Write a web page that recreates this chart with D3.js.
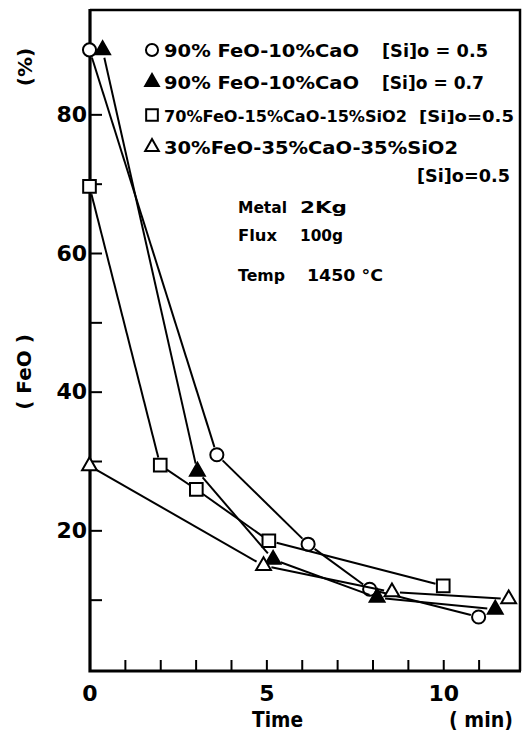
<!DOCTYPE html>
<html>
<head>
<meta charset="utf-8">
<script src="https://cdn.jsdelivr.net/npm/d3@7"></script>
<style>
  body { margin: 0; background: #fff; }
  text { font-family: "DejaVu Sans", sans-serif; font-weight: bold; fill: #000; }
</style>
</head>
<body>
<div id="chart"></div>
<script>
// data (time in min, FeO in %)
let circleTime = [0, 3.6, 6.18, 7.92, 11.0];
let circleFeO = [89.3, 30.9, 18.0, 11.5, 7.5];

let filledTime = [0.37, 3.05, 5.19, 8.13, 11.47];
let filledFeO = [89.3, 28.5, 15.8, 10.3, 8.6];

let squareTime = [0, 2.0, 3.02, 5.07, 10.0];
let squareFeO = [69.6, 29.4, 25.9, 18.5, 12.0];

let openTriTime = [0, 4.92, 8.55, 11.85];
let openTriFeO = [29.3, 14.9, 11.1, 10.1];

let xTickLabels = [0, 5, 10];
let yTickLabels = [20, 40, 60, 80];

let svgWidth = 528;
let svgHeight = 740;

let frame = { left: 90, top: 10, right: 520, bottom: 671 };

let svg = d3.select("#chart")
  .append("svg")
  .attr("width", svgWidth)
  .attr("height", svgHeight);

let x = d3.scaleLinear().domain([0, 12.17]).range([89.5, frame.right]);
let y = d3.scaleLinear().domain([0, 95.05]).range([669, frame.top]);

// frame
svg.append("path")
  .attr("d", `M${frame.left},${frame.top} H${frame.right} V${frame.bottom}`)
  .attr("fill", "none").attr("stroke", "#000").attr("stroke-width", 2.5);
svg.append("path")
  .attr("d", `M${frame.left},${frame.top - 1} V${frame.bottom} H${frame.right + 1}`)
  .attr("fill", "none").attr("stroke", "#000").attr("stroke-width", 3.2);

// inward ticks on the left axis
let yTickMarks = svg.append("g")
  .attr("transform", `translate(${frame.left},0)`)
  .call(d3.axisRight(y).tickValues(d3.range(10, 90, 10)).tickSize(12).tickFormat(""));
yTickMarks.select(".domain").remove();
yTickMarks.selectAll("line").attr("stroke-width", 2);

let yLabels = svg.append("g")
  .attr("transform", `translate(${frame.left},0)`)
  .call(d3.axisLeft(y).tickValues(yTickLabels).tickSize(0).tickPadding(3));
yLabels.select(".domain").remove();
yLabels.selectAll("text")
  .attr("font-size", 22)
  .attr("font-family", "DejaVu Sans, sans-serif")
  .attr("font-weight", "bold");

// inward ticks on the bottom axis
let xTickMarks = svg.append("g")
  .attr("transform", `translate(0,${frame.bottom})`)
  .call(d3.axisTop(x).tickValues(d3.range(1, 12, 1)).tickSize(11).tickFormat(""));
xTickMarks.select(".domain").remove();
xTickMarks.selectAll("line").attr("stroke-width", 2);

let xLabels = svg.append("g")
  .attr("transform", `translate(0,${frame.bottom})`)
  .call(d3.axisBottom(x).tickValues(xTickLabels).tickSize(0).tickPadding(14));
xLabels.select(".domain").remove();
xLabels.selectAll("text")
  .attr("font-size", 22)
  .attr("font-family", "DejaVu Sans, sans-serif")
  .attr("font-weight", "bold");

// helper: text stretched to the width it has in the original lettering
function label(tx, ty, str, size, width, anchor) {
  let t = svg.append("text").attr("x", tx).attr("y", ty)
    .attr("font-size", size).text(str);
  if (width) t.attr("textLength", width).attr("lengthAdjust", "spacingAndGlyphs");
  if (anchor) t.attr("text-anchor", anchor);
  return t;
}

// axis titles
label(252, 727, "Time", 21, 51);
label(449, 727, "( min)", 21, 64);
svg.append("text").attr("transform", "translate(32,67) rotate(-90)")
  .attr("text-anchor", "middle").attr("font-size", 20).text("(%)");
svg.append("text").attr("transform", "translate(31,372) rotate(-90)")
  .attr("text-anchor", "middle").attr("font-size", 20).text("( FeO )");

// series
let series = [
  { t: circleTime, v: circleFeO, shape: d3.symbolCircle, size: 135, fill: "#fff" },
  { t: filledTime, v: filledFeO, shape: d3.symbolTriangle, size: 95, fill: "#000" },
  { t: squareTime, v: squareFeO, shape: d3.symbolSquare, size: 160, fill: "#fff" },
  { t: openTriTime, v: openTriFeO, shape: d3.symbolTriangle, size: 95, fill: "#fff" }
];

let gap = 8;
series.forEach(function(s) {
  let pts = s.t.map((t, i) => [x(t), y(s.v[i])]);
  // segments stop short of the markers, as in the original drawing
  for (let i = 0; i < pts.length - 1; i++) {
    let [x0, y0] = pts[i], [x1, y1] = pts[i + 1];
    let len = Math.hypot(x1 - x0, y1 - y0);
    let ux = (x1 - x0) / len, uy = (y1 - y0) / len;
    svg.append("line")
      .attr("x1", x0 + ux * gap).attr("y1", y0 + uy * gap)
      .attr("x2", x1 - ux * gap).attr("y2", y1 - uy * gap)
      .attr("stroke", "#000").attr("stroke-width", 2);
  }
  svg.selectAll(null).data(pts).enter()
    .append("path")
    .attr("d", d3.symbol().type(s.shape).size(s.size))
    .attr("transform", d => `translate(${d[0]},${d[1]})`)
    .attr("fill", s.fill)
    .attr("stroke", "#000")
    .attr("stroke-width", 2);
});

// legend
let legendRows = [
  { y: 50, size: 18, text: "90% FeO-10%CaO", w: 195, tail: "[Si]o = 0.5", tailX: 382, tw: 106 },
  { y: 82, size: 18, text: "90% FeO-10%CaO", w: 195, tail: "[Si]o = 0.7", tailX: 382, tw: 102 },
  { y: 115, size: 16, text: "70%FeO-15%CaO-15%SiO2", w: 243, tail: "[Si]o=0.5", tailX: 419, tw: 95 },
  { y: 147, size: 18, text: "30%FeO-35%CaO-35%SiO2", w: 294, tail: "", tailX: 0, tw: 0 }
];
legendRows.forEach(function(r, i) {
  let s = series[i];
  svg.append("path")
    .attr("d", d3.symbol().type(s.shape).size(s.size * 0.85))
    .attr("transform", `translate(152,${r.y})`)
    .attr("fill", s.fill).attr("stroke", "#000").attr("stroke-width", 2);
  label(164, r.y + 7, r.text, r.size, r.w);
  if (r.tail) label(r.tailX, r.y + 7, r.tail, r.size, r.tw);
});
label(417, 182, "[Si]o=0.5", 18, 93);

let notes = [["Metal", "2Kg", 213, 49, 47], ["Flux", "100g", 241, 39, 43], ["Temp", "1450 °C", 281, 47, 76]];
notes.forEach(function(n) {
  label(238, n[2], n[0], 16, n[3]);
  label(n[0] === "Temp" ? 307 : 300, n[2], n[1], 16, n[4]);
});
</script>
</body>
</html>
